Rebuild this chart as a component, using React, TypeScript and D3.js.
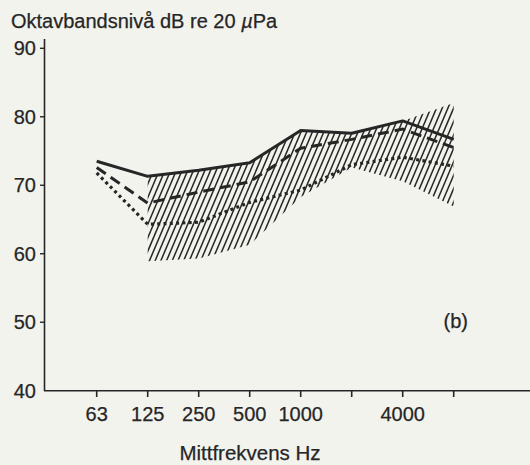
import React from "react";
import * as d3 from "d3";

// Octave band centre frequencies (Hz)
const freqs = ["63", "125", "250", "500", "1000", "2000", "4000", "8000"];
const tickLabels = ["63", "125", "250", "500", "1000", "", "4000", ""];
const yTicks = [40, 50, 60, 70, 80, 90];

// Octave band levels, dB re 20 µPa
const solidLevels = [73.5, 71.3, 72.2, 73.3, 78.0, 77.6, 79.4, 76.7];
const dashedLevels = [72.6, 67.4, 69.0, 70.5, 75.4, 76.7, 78.2, 75.5];
const dottedLevels = [71.8, 64.3, 64.6, 67.5, 69.3, 73.0, 74.1, 72.8];

// Hatched range (125 Hz – 8000 Hz)
const bandFreqs = ["125", "250", "500", "1000", "2000", "4000", "8000"];
const bandUpper = [71.3, 72.2, 73.3, 78.0, 77.6, 79.4, 82.0];
const bandLower = [58.9, 59.3, 61.3, 68.3, 72.6, 70.6, 66.9];

const W = 530;
const H = 465;
const INK = "#262626";
const FONT = "'Liberation Sans', Arial, Helvetica, sans-serif";

export default function App() {
  const x = d3.scalePoint<string>().domain(freqs).range([96.7, 453.7]);
  const y = d3.scaleLinear().domain([40, 90]).range([390.7, 48.3]);

  const line = d3
    .line<number>()
    .x((_, i) => x(freqs[i]) as number)
    .y((d) => y(d));

  const band = d3
    .area<number>()
    .x((_, i) => x(bandFreqs[i]) as number)
    .y0((_, i) => y(bandLower[i]))
    .y1((d) => y(d));

  const bandPath = band(bandUpper) || "";

  // diagonal hatch strokes, clipped to the band
  const top = 90;
  const bottom = 270;
  const slant = (bottom - top) / Math.tan((67 * Math.PI) / 180);
  const hatch: number[] = d3.range(60, 480, 5.7);

  return (
    <svg
      width={W}
      height={H}
      style={{ position: "absolute", left: 0, top: 0 }}
      fontFamily={FONT}
    >
      <rect width={W} height={H} fill="#f3f3ee" />
      <defs>
        <clipPath id="bandClip">
          <path d={bandPath} />
        </clipPath>
      </defs>

      <g clipPath="url(#bandClip)" stroke={INK} strokeWidth={1.5}>
        {hatch.map((x0, i) => (
          <line key={i} x1={x0} y1={bottom} x2={x0 + slant} y2={top} />
        ))}
      </g>

      <path
        d={line(solidLevels) || ""}
        fill="none"
        stroke={INK}
        strokeWidth={3}
        strokeLinejoin="round"
      />
      <path
        d={line(dashedLevels) || ""}
        fill="none"
        stroke={INK}
        strokeWidth={3}
        strokeDasharray="11 6"
      />
      <path
        d={line(dottedLevels) || ""}
        fill="none"
        stroke={INK}
        strokeWidth={3.2}
        strokeDasharray="3 3.3"
      />

      {/* y axis */}
      <line x1={44.5} x2={44.5} y1={39} y2={391} stroke={INK} strokeWidth={1.6} />
      {yTicks.map((t) => (
        <g key={t} transform={`translate(0,${y(t)})`}>
          {t !== 40 && <line x1={40} x2={44.5} stroke={INK} strokeWidth={1.4} />}
          <text
            x={36}
            dy="0.35em"
            textAnchor="end"
            fontSize={20}
            fill={INK}
            stroke={INK}
            strokeWidth={0.25}
          >
            {t}
          </text>
        </g>
      ))}

      {/* x axis */}
      <line x1={44} x2={W} y1={390.7} y2={390.7} stroke={INK} strokeWidth={1.6} />
      {freqs.map((f, i) => (
        <g key={f} transform={`translate(${x(f)},0)`}>
          <line y1={390.7} y2={397} stroke={INK} strokeWidth={1.6} />
          {tickLabels[i] && (
            <text
              y={421}
              textAnchor="middle"
              fontSize={20}
              fill={INK}
              stroke={INK}
              strokeWidth={0.25}
            >
              {tickLabels[i]}
            </text>
          )}
        </g>
      ))}

      <g fill={INK} stroke={INK} strokeWidth={0.25}>
        <text x={11} y={28} fontSize={20}>
          Oktavbandsnivå dB re 20 <tspan fontStyle="italic">µ</tspan>Pa
        </text>
        <text x={250} y={460} textAnchor="middle" fontSize={20.5}>
          Mittfrekvens Hz
        </text>
        <text x={468} y={328} textAnchor="end" fontSize={20}>
          (b)
        </text>
      </g>
    </svg>
  );
}
